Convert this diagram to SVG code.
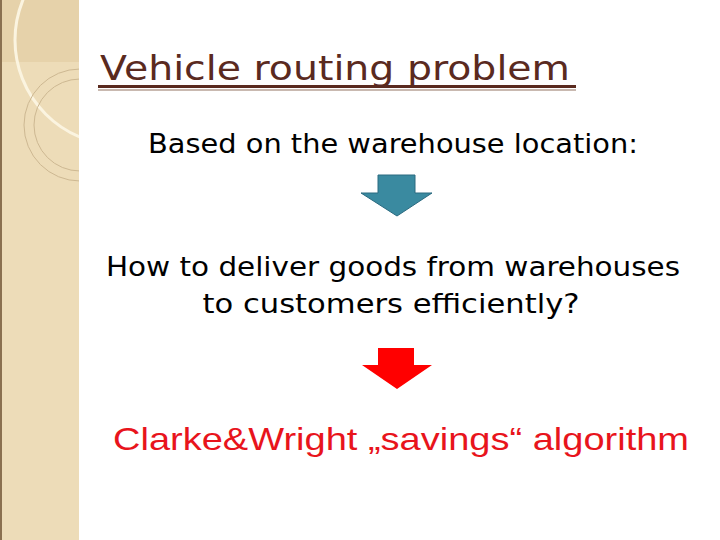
<svg xmlns="http://www.w3.org/2000/svg" width="720" height="540" viewBox="0 0 720 540">
<style>
.t{font-family:"DejaVu Sans",sans-serif;fill:#000;font-size:26px;text-anchor:middle}
</style>
<defs><clipPath id="c"><rect x="0" y="0" width="79" height="540"/></clipPath></defs>
<rect width="720" height="540" fill="#fff"/>
<g id="sidebar">
<rect x="0" y="0" width="79" height="540" fill="#eddcb8"/>
<rect x="0" y="0" width="79" height="62" fill="#e6d2aa"/>
<line x1="1" y1="0" x2="1" y2="540" stroke="#8a7050" stroke-width="2"/>
<g clip-path="url(#c)">
<circle cx="120" cy="40" r="105" fill="none" stroke="#fbf4e0" stroke-width="3"/>
<circle cx="80" cy="125" r="56" fill="none" stroke="#cdb892" stroke-width="1"/>
<circle cx="80" cy="125" r="46" fill="none" stroke="#cdb892" stroke-width="1"/>
</g>
</g>
<g id="title">
<text x="100" y="80" font-family="DejaVu Sans,sans-serif" font-size="34" fill="#5a2a1f" textLength="470" lengthAdjust="spacingAndGlyphs">Vehicle routing problem</text>
<rect x="98" y="85" width="478" height="3" fill="#5a2a1f"/>
<rect x="98" y="89" width="478" height="2" fill="#c9b9b0"/>
</g>
<g id="step1"><text class="t" x="393" y="153" textLength="490" lengthAdjust="spacingAndGlyphs">Based on the warehouse location:</text></g>
<g id="step2"><text class="t" x="393" y="276" textLength="574" lengthAdjust="spacingAndGlyphs">How to deliver goods from warehouses</text><text class="t" x="391" y="313" textLength="377" lengthAdjust="spacingAndGlyphs">to customers efficiently?</text></g>
<g id="result"><text x="113" y="450" font-family="Liberation Sans,sans-serif" font-size="32" fill="#e8141c" textLength="576" lengthAdjust="spacingAndGlyphs">Clarke&amp;Wright „savings“ algorithm</text></g>
<g id="connectors">
<polygon points="378,175 415,175 415,193 432,193 397,216 361,193 378,193" fill="#3a8aa0" stroke="#2a6a80" stroke-width="1"/>
<polygon points="378,348 414,348 414,365 432,365 397,389 362,365 378,365" fill="#ff0000"/>
</g>
</svg>
